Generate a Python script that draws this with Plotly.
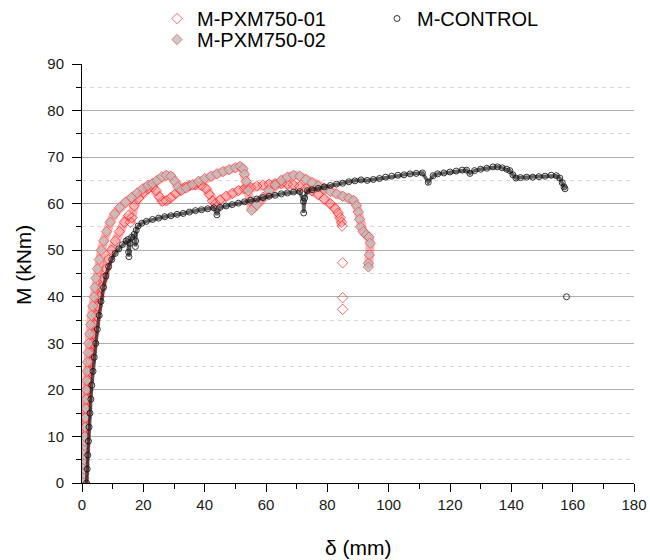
import plotly.graph_objects as go

# ---------------- data ----------------
ctrl_delta = [1.5, 1.7, 1.9, 2.1, 2.3, 2.6, 2.9, 3.2, 3.6, 4.0,
              4.5, 5.0, 5.6, 6.2, 7.0, 7.8, 8.7, 9.7, 10.8, 12.0,
              13.2, 14.4, 15.0, 15.2, 15.3, 15.6, 16.2, 17.0, 17.5, 17.4,
              17.7, 18.3, 19.5, 21, 23, 25, 27, 29, 31, 33,
              35, 37, 39, 41, 43, 44, 45, 47, 49, 51,
              53, 55, 57, 59, 61, 63, 65, 67, 69, 71,
              72.2, 72.3, 72.6, 73.5, 75, 77, 79, 81, 83, 85,
              87, 89, 91, 93, 95, 97, 99, 101, 103, 105,
              107, 109, 111, 112.9, 114.5, 116, 118, 120, 122, 124,
              125.4, 126.5, 128, 130, 132, 134, 135.5, 137, 138.5, 139.5,
              140.5, 141.5, 143, 145, 147, 149, 151, 153, 154.7, 155.8,
              156.6, 157.2, 157.5, None, 158.0]
ctrl_moment = [0, 3, 6, 9, 12, 15, 18, 21, 24, 27,
               30, 33, 36, 39, 42, 44.5, 46.5, 48, 49.3, 50.3,
               51.2, 52.0, 52.3, 49.6, 48.6, 51.5, 52.8, 53.4, 52.0, 50.8,
               54.3, 55.2, 55.8, 56.2, 56.6, 56.9, 57.2, 57.4, 57.7, 57.9,
               58.2, 58.5, 58.7, 58.9, 59.1, 57.6, 59.2, 59.5, 59.8, 60.1,
               60.4, 60.7, 61.0, 61.3, 61.6, 61.8, 62.1, 62.3, 62.5, 62.6,
               60.5, 58.0, 61.2, 62.8, 63.0, 63.3, 63.6, 63.9, 64.2, 64.4,
               64.7, 64.9, 65.1, 65.0, 65.2, 65.4, 65.7, 65.9, 66.1, 66.2,
               66.4, 66.5, 66.6, 64.6, 66.0, 66.4, 66.6, 66.8, 67.0, 67.2,
               67.2, 66.5, 67.1, 67.4, 67.6, 67.9, 67.9, 67.7, 67.4, 67.1,
               66.2, 65.5, 65.6, 65.7, 65.7, 65.8, 65.9, 66.1, 66.0, 65.5,
               64.5, 63.6, 63.2, None, 40.0]

p01_delta = [0.3, 0.35, 0.4, 0.45, 0.5, 0.55, 0.6, 0.65, 0.7, 0.8,
             0.9, 1.1, 1.3, 1.5, 1.7, 1.9, 2.1, 2.4, 2.7, 3.0,
             3.3, 3.7, 4.1, 4.6, 5.1, 5.7, 6.3, 7.0, 7.8, 8.6,
             9.6, 10.8, 12.2, 13.8, 15.2, 15.8, 16.3, 17.0, 18.5, 20.0,
             21.5, 23.0, 24.2, 25.2, 26.2, 27.5, 29.0, 30.5, 32.0, 33.5,
             35, 37, 39, 40.5, 41.5, 42.5, 43.5, 45, 47, 49,
             51, 53, 55, 57, 59, 61, 63, 65, 67, 69,
             71, 73, 75, 77, 79, 81, 82.5, 83.5, 84.2, 84.7,
             84.8, None, 85.0, None, 85.0, None, 85.0]
p01_moment = [0, 1, 2, 3, 4, 5, 6, 7, 8, 9,
              10, 12, 14, 16, 18, 20, 22, 24, 26, 28,
              30, 32, 34, 36, 38, 40, 42, 44, 46, 48,
              50, 52, 54, 56, 57.5, 56.0, 57.0, 59.5, 61.2, 62.4,
              63.2, 63.6, 62.8, 61.5, 60.5, 60.6, 61.3, 62.2, 63.0, 63.5,
              63.9, 64.1, 63.9, 63.2, 62.0, 60.6, 60.0, 60.8, 61.6, 62.2,
              62.8, 63.2, 63.5, 63.8, 64.0, 64.2, 64.3, 64.3, 64.2, 64.0,
              63.7, 63.3, 62.8, 62.0, 61.0, 60.0, 59.0, 58.0, 57.0, 56.0,
              55.2, None, 47.3, None, 39.8, None, 37.3]

p02_delta = [0.6, 0.6, 0.65, 0.7, 0.7, 0.75, 0.8, 0.8, 0.85, 0.9,
             0.9, 1.0, 1.1, 1.2, 1.3, 1.4, 1.5, 1.65, 1.8, 2.0,
             2.2, 2.5, 2.8, 3.1, 3.5, 3.9, 4.2, 4.5, 5.0, 5.6,
             6.3, 7.1, 8.0, 9.2, 10.6, 12.3, 14.2, 16.2, 18.0, 19.8,
             21.5, 23, 24.5, 26, 27.5, 29, 30.2, 31.2, 32.5, 34,
             36, 38, 40, 42, 44, 46, 48, 50, 51.5, 52.5,
             53, 53.5, 54.2, 54.8, 55.3, 57, 59, 61, 63, 65,
             67, 69, 71, 73, 75, 77, 79, 81, 83, 85,
             87, 88.5, 89.5, 90.1, 90.5, 90.8, 91.7, 92.7, 93.6, 94.0,
             93.7, 93.4, 93.4]
p02_moment = [0, 1, 2, 3, 4, 5, 6, 7, 8, 9,
              10, 12, 14, 16, 18, 20, 22, 24, 26, 28,
              30, 32, 34, 36, 38, 40, 42, 44, 46, 48,
              50, 52, 54, 56, 57.8, 59.2, 60.3, 61.3, 62.3, 63.2,
              63.9, 64.3, 65.0, 65.8, 66.1, 65.9, 64.8, 63.6, 62.9, 63.4,
              64.1, 64.8, 65.4, 65.9, 66.4, 66.9, 67.3, 67.7, 68.0, 67.5,
              66.3, 64.8, 62.8, 60.6, 58.6, 59.8, 61.4, 62.8, 64.0, 65.0,
              65.7, 66.1, 65.9, 65.2, 64.5, 63.8, 63.2, 62.6, 62.1, 61.6,
              61.2, 60.7, 59.6, 58.2, 56.6, 55.0, 54.0, 53.3, 52.8, 51.5,
              49.0, 47.2, 46.4]

x_ticks = [0, 20, 40, 60, 80, 100, 120, 140, 160, 180]
y_ticks = [0, 10, 20, 30, 40, 50, 60, 70, 80, 90]

FONT = "Liberation Sans, Arial, Helvetica, sans-serif"

W, H = 650, 560
ML, MR, MT, MB = 82, 16, 64, 77

fig = go.Figure()

# translucent bands under the marker chains
for dx, dy in ((p01_delta, p01_moment), (p02_delta, p02_moment)):
    fig.add_trace(go.Scatter(x=dx, y=dy, mode="lines",
                             line=dict(color="rgba(255,40,40,0.36)", width=9),
                             showlegend=False, hoverinfo="skip"))

fig.add_trace(go.Scatter(
    x=p01_delta, y=p01_moment, mode="markers", name="M-PXM750-01",
    marker=dict(symbol="diamond-open", size=8,
                color="rgba(255,20,20,0.65)", line=dict(width=1)),
    legend="legend"))
fig.add_trace(go.Scatter(
    x=p02_delta, y=p02_moment, mode="markers", name="M-PXM750-02",
    marker=dict(symbol="diamond", size=8, color="rgba(190,190,190,0.8)",
                line=dict(color="rgba(255,50,50,0.6)", width=1)),
    legend="legend2"))

fig.add_trace(go.Scatter(x=ctrl_delta, y=ctrl_moment, mode="lines",
                         line=dict(color="rgba(0,0,0,0.62)", width=3.5),
                         showlegend=False, hoverinfo="skip"))
fig.add_trace(go.Scatter(
    x=ctrl_delta, y=ctrl_moment, mode="markers", name="M-CONTROL",
    marker=dict(symbol="circle-open", size=6,
                color="rgba(20,20,20,0.85)", line=dict(width=1)),
    legend="legend3"))

legend_common = dict(xref="container", yref="container", xanchor="left",
                     yanchor="middle", bgcolor="rgba(0,0,0,0)",
                     font=dict(size=20, family=FONT, color="#000"))

fig.update_layout(
    width=W, height=H,
    margin=dict(l=ML, r=MR, t=MT, b=MB, autoexpand=False),
    paper_bgcolor="white", plot_bgcolor="white",
    font=dict(family=FONT, color="#000"),
    legend=dict(x=157 / W, y=1 - 18.5 / H, **legend_common),
    legend2=dict(x=157 / W, y=1 - 39.5 / H, **legend_common),
    legend3=dict(x=377 / W, y=1 - 18.5 / H, **legend_common),
    xaxis=dict(range=[0, 180], tickvals=x_ticks, ticktext=[str(v) for v in x_ticks],
               showline=True, linecolor="#000", linewidth=1, automargin=False,
               ticks="outside", ticklen=8, tickcolor="#000", tickwidth=1,
               minor=dict(ticks="outside", ticklen=5, dtick=10, tick0=0,
                          tickcolor="#000", showgrid=False),
               showgrid=False, zeroline=False,
               tickfont=dict(size=15, color="#1a1a1a")),
    yaxis=dict(range=[0, 90], tickvals=y_ticks, ticktext=[str(v) for v in y_ticks],
               showline=True, linecolor="#000", linewidth=1, automargin=False,
               ticks="outside", ticklen=9, tickcolor="#000", tickwidth=1,
               ticklabelstandoff=5,
               showgrid=True, gridcolor="#b0b0b0", gridwidth=1,
               minor=dict(ticks="outside", ticklen=5, dtick=5, tick0=0,
                          tickcolor="#000", showgrid=True,
                          gridcolor="#d9d9d9", griddash="4px,4px", gridwidth=1),
               zeroline=False,
               tickfont=dict(size=15, color="#1a1a1a")),
    annotations=[
        dict(text="δ (mm)", xref="paper", yref="paper", x=0.5,
             y=-(547 - (H - MB)) / (H - MT - MB), xanchor="center", yanchor="middle",
             showarrow=False, font=dict(size=21, color="#000", family=FONT)),
        dict(text="M (kNm)", xref="paper", yref="paper",
             x=(23 - ML) / (W - ML - MR), y=0.52, xanchor="center", yanchor="middle",
             textangle=-90, showarrow=False,
             font=dict(size=21, color="#000", family=FONT)),
    ],
)

fig.write_html(
    "out.html",
    config={"displayModeBar": False},
    post_script="document.body.style.margin='0';"
                "document.documentElement.style.overflow='hidden';",
)
